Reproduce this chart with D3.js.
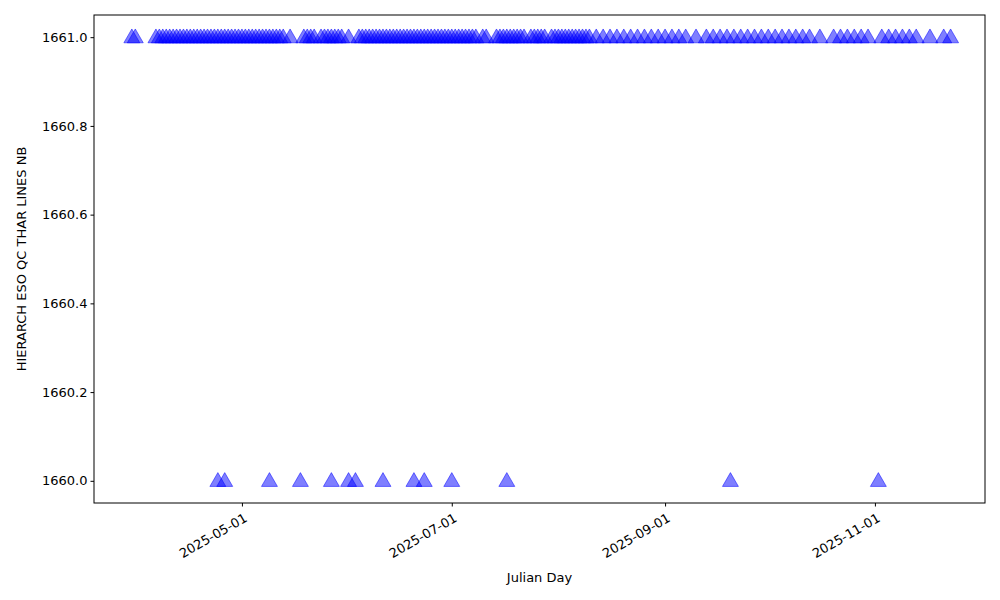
<!DOCTYPE html><html><head><meta charset="utf-8"><script src="https://cdn.jsdelivr.net/npm/d3@7"></script>
<style>body{margin:0;background:#fff}</style></head><body><svg id="c" width="1000" height="600"></svg><script>
const topDates = ["03-30","03-31","04-06","04-07","04-08","04-09","04-10","04-11","04-12","04-13","04-14","04-15","04-16","04-17","04-18","04-19","04-20","04-21","04-22","04-23","04-24","04-25","04-26","04-27","04-28","04-29","04-30","05-01","05-02","05-03","05-04","05-05","05-06","05-07","05-08","05-09","05-10","05-11","05-12","05-13","05-15","05-19","05-20","05-21","05-22","05-24","05-25","05-26","05-27","05-28","05-29","05-30","06-01","06-04","06-05","06-06","06-07","06-08","06-09","06-10","06-11","06-12","06-13","06-14","06-15","06-16","06-17","06-18","06-19","06-20","06-21","06-22","06-23","06-24","06-25","06-26","06-27","06-28","06-29","06-30","07-01","07-02","07-03","07-04","07-05","07-06","07-07","07-08","07-10","07-11","07-14","07-15","07-16","07-17","07-18","07-19","07-20","07-21","07-22","07-24","07-25","07-26","07-27","07-28","07-30","07-31","08-01","08-02","08-03","08-04","08-05","08-06","08-07","08-08","08-09","08-10","08-12","08-14","08-16","08-18","08-20","08-22","08-24","08-26","08-28","08-30","09-01","09-03","09-05","09-07","09-10","09-13","09-15","09-17","09-19","09-21","09-23","09-25","09-27","09-29","10-01","10-03","10-05","10-07","10-09","10-11","10-13","10-16","10-20","10-22","10-24","10-26","10-28","10-30","11-03","11-05","11-07","11-09","11-11","11-13","11-17","11-21","11-23"];
const lowDates = ["04-24","04-26","05-09","05-18","05-27","06-01","06-03","06-11","06-20","06-23","07-01","07-17","09-20","11-02"];
const topValue = 1661, lowValue = 1660;
const yTicks = [1660.0,1660.2,1660.4,1660.6,1660.8,1661.0];
const xTicks = ["2025-05-01","2025-07-01","2025-09-01","2025-11-01"];
const P = d3.utcParse("%Y-%m-%d");
const pts = topDates.map(d=>({t:P("2025-"+d),v:topValue})).concat(lowDates.map(d=>({t:P("2025-"+d),v:lowValue})));
const svg=d3.select("#c");
const L=94,R=985,T=15,B=503;
const x=d3.scaleUtc().domain([P("2025-03-19"),P("2025-12-03")]).range([L,R]);
const y=d3.scaleLinear().domain([1659.95,1661.05]).range([B,T]);
svg.selectAll("path.m").data(pts).join("path").attr("class","m")
 .attr("d",d3.symbol(d3.symbolTriangle,110)).attr("transform",d=>`translate(${x(d.t)},${y(d.v)+1})`)
 .attr("fill","blue").attr("fill-opacity",0.5).attr("stroke","blue").attr("stroke-opacity",0.5);
const xa=svg.append("g").attr("transform",`translate(0,${B})`).call(d3.axisBottom(x).tickValues(xTicks.map(P)).tickFormat(d3.utcFormat("%Y-%m-%d")).tickSizeOuter(0).tickSize(3.5));
xa.selectAll("text").attr("transform","rotate(-30)").attr("text-anchor","end").attr("dx","-0.3em").attr("dy","0.9em");
const ya=svg.append("g").attr("transform",`translate(${L},0)`).call(d3.axisLeft(y).tickValues(yTicks).tickFormat(d3.format(".1f")).tickSizeOuter(0).tickSize(3.5));
svg.selectAll(".tick text").attr("font-size",13).attr("font-family","DejaVu Sans").attr("fill","#000");
svg.selectAll(".domain").remove();
svg.append("rect").attr("x",L).attr("y",T).attr("width",R-L).attr("height",B-T).attr("fill","none").attr("stroke","#000");
svg.append("text").attr("x",(L+R)/2).attr("y",582).attr("text-anchor","middle").attr("font-family","DejaVu Sans").attr("font-size",13).text("Julian Day");
svg.append("text").attr("transform",`translate(26,${(T+B)/2}) rotate(-90)`).attr("text-anchor","middle").attr("font-family","DejaVu Sans").attr("font-size",13).text("HIERARCH ESO QC THAR LINES NB");
</script></body></html>
